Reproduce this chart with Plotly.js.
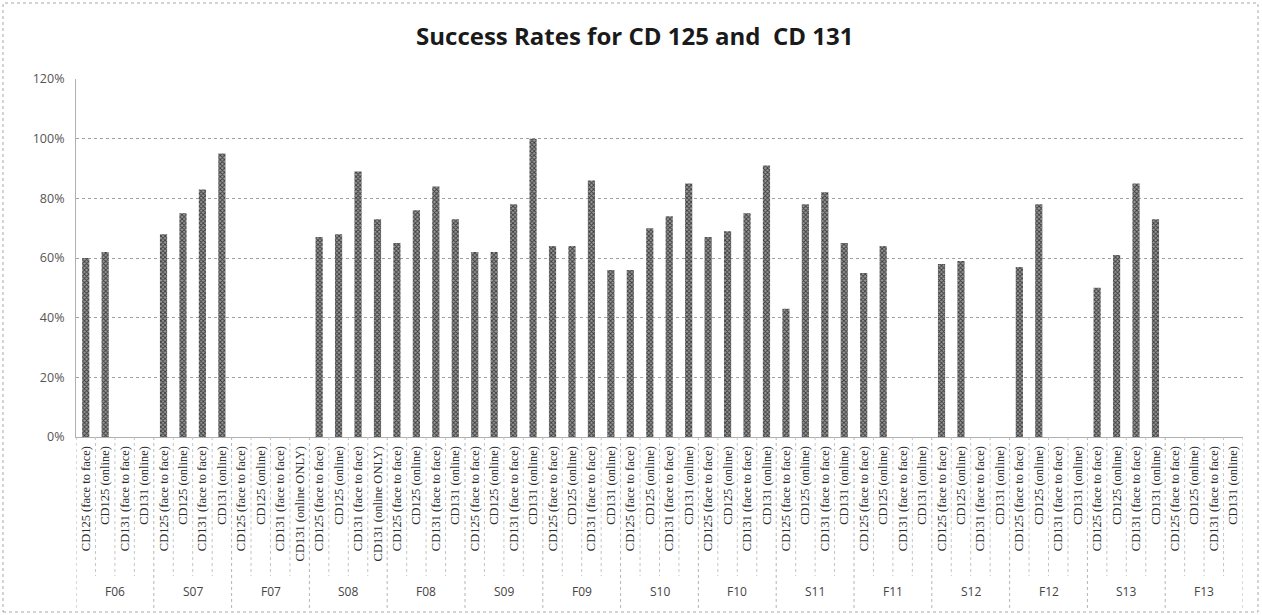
<!DOCTYPE html>
<html>
<head>
<meta charset="utf-8">
<script src="https://cdn.plot.ly/plotly-3.0.1.min.js"></script>
<style>
  html, body { margin: 0; padding: 0; background: #fff; }
  #chart { width: 1262px; height: 615px; }
</style>
</head>
<body>
<div id="chart"></div>
<script>
// Terms (semesters) and the four course/delivery sections in each
const terms = ['F06', 'S07', 'F07', 'S08', 'F08', 'S09', 'F09', 'S10', 'F10', 'S11', 'F11', 'S12', 'F12', 'S13', 'F13'];

const sectionsStandard = ['CD125 (face to face)', 'CD125 (online)', 'CD131 (face to face)', 'CD131 (online)'];
const sectionsOnlineOnly = ['CD125 (face to face)', 'CD125 (online)', 'CD131 (face to face)', 'CD131 (online ONLY)'];
const onlineOnlyTerms = ['F07', 'S08'];

// Success rates per term, in section order (null = no section offered)
const rateF06 = [0.60, 0.62, null, null];
const rateS07 = [0.68, 0.75, 0.83, 0.95];
const rateF07 = [null, null, null, null];
const rateS08 = [0.67, 0.68, 0.89, 0.73];
const rateF08 = [0.65, 0.76, 0.84, 0.73];
const rateS09 = [0.62, 0.62, 0.78, 1.00];
const rateF09 = [0.64, 0.64, 0.86, 0.56];
const rateS10 = [0.56, 0.70, 0.74, 0.85];
const rateF10 = [0.67, 0.69, 0.75, 0.91];
const rateS11 = [0.43, 0.78, 0.82, 0.65];
const rateF11 = [0.55, 0.64, null, null];
const rateS12 = [0.58, 0.59, null, null];
const rateF12 = [0.57, 0.78, null, null];
const rateS13 = [0.50, 0.61, 0.85, 0.73];
const rateF13 = [null, null, null, null];

const yTickVals = [0, 0.2, 0.4, 0.6, 0.8, 1.0, 1.2];
const yTickText = ['0%', '20%', '40%', '60%', '80%', '100%', '120%'];

const ratesByTerm = [rateF06, rateS07, rateF07, rateS08, rateF08, rateS09, rateF09,
                     rateS10, rateF10, rateS11, rateF11, rateS12, rateF12, rateS13, rateF13];

// Flatten to one slot per section; x is the slot index, labels come from ticktext
const xIdx = [], labels = [], yVals = [];
terms.forEach((t, i) => {
  const secs = onlineOnlyTerms.includes(t) ? sectionsOnlineOnly : sectionsStandard;
  secs.forEach((s, j) => {
    xIdx.push(xIdx.length);
    labels.push(s);
    yVals.push(ratesByTerm[i][j]);
  });
});
const perTerm = sectionsStandard.length;

const trace = {
  type: 'bar',
  x: xIdx,
  y: yVals,
  marker: {
    color: '#8c8c8c',
    line: { width: 0 },
    pattern: { shape: 'x', fgcolor: '#3a3a3a', bgcolor: '#9a9a9a', size: 3, solidity: 0.5 }
  },
  hoverinfo: 'y'
};

// Plot area spans px 76..1243 horizontally, 79..437 vertically
const L = 76, R = 1243, T = 79, B = 437;
const px = v => (v - L) / (R - L);
const py = v => (B - v) / (B - T);

const shapes = [];
// thin separators between every section label
for (let k = 0; k <= xIdx.length; k++) {
  if (k % perTerm === 0) continue;
  shapes.push({
    type: 'line', xref: 'x', yref: 'paper',
    x0: k - 0.5, x1: k - 0.5, y0: 0, y1: py(576),
    line: { color: '#c4c4c4', width: 1, dash: 'dot' }
  });
}
// longer dividers between terms
for (let g = 0; g <= terms.length; g++) {
  shapes.push({
    type: 'line', xref: 'x', yref: 'paper',
    x0: g * perTerm - 0.5, x1: g * perTerm - 0.5, y0: 0, y1: py(608),
    line: { color: '#b4b4b4', width: 1, dash: 'dot' }
  });
}
// chart-area border
shapes.push({
  type: 'rect', xref: 'paper', yref: 'paper',
  x0: px(3), x1: px(1258), y0: py(612), y1: py(3),
  line: { color: '#a8a8a8', width: 1, dash: 'dot' },
  fillcolor: 'rgba(0,0,0,0)', layer: 'below'
});

// term labels centred under each group of four sections
const annotations = terms.map((t, g) => ({
  text: t, xref: 'x', yref: 'paper',
  x: g * perTerm + (perTerm - 1) / 2, y: py(591),
  showarrow: false, xanchor: 'center', yanchor: 'middle',
  font: { family: 'Open Sans, sans-serif', size: 12, color: '#444' }
}));

const layout = {
  width: 1262,
  height: 615,
  margin: { l: L, r: 1262 - R, t: T, b: 615 - B, pad: 0 },
  paper_bgcolor: '#ffffff',
  plot_bgcolor: '#ffffff',
  showlegend: false,
  bargap: 0.63,
  title: {
    text: '<b>Success Rates for CD 125 and  CD 131</b>',
    x: 0.503, xref: 'container', xanchor: 'center',
    y: 0.94, yref: 'container', yanchor: 'middle',
    font: { family: 'Open Sans, sans-serif', size: 24, color: '#1a1a1a' }
  },
  xaxis: {
    type: 'linear',
    range: [-0.5, xIdx.length - 0.5],
    tickmode: 'array',
    tickvals: xIdx,
    ticktext: labels,
    tickangle: -90,
    tickfont: { family: 'Liberation Serif, serif', size: 12.5, color: '#2a2a2a' },
    ticks: '',
    ticklabelstandoff: 3,
    showgrid: false,
    zeroline: false,
    showline: true,
    linecolor: '#b0b0b0',
    linewidth: 1,
    fixedrange: true
  },
  yaxis: {
    range: [0, 1.2],
    tickvals: yTickVals,
    ticktext: yTickText,
    tickfont: { family: 'Open Sans, sans-serif', size: 12.5, color: '#555' },
    showgrid: true,
    gridcolor: '#a0a0a0',
    griddash: 'dot',
    gridwidth: 1,
    zeroline: false,
    showline: true,
    linecolor: '#b0b0b0',
    linewidth: 1,
    ticks: '',
    ticklabelstandoff: 8,
    fixedrange: true
  },
  shapes: shapes,
  annotations: annotations
};

Plotly.newPlot('chart', [trace], layout, { displayModeBar: false, staticPlot: true });
</script>
</body>
</html>
